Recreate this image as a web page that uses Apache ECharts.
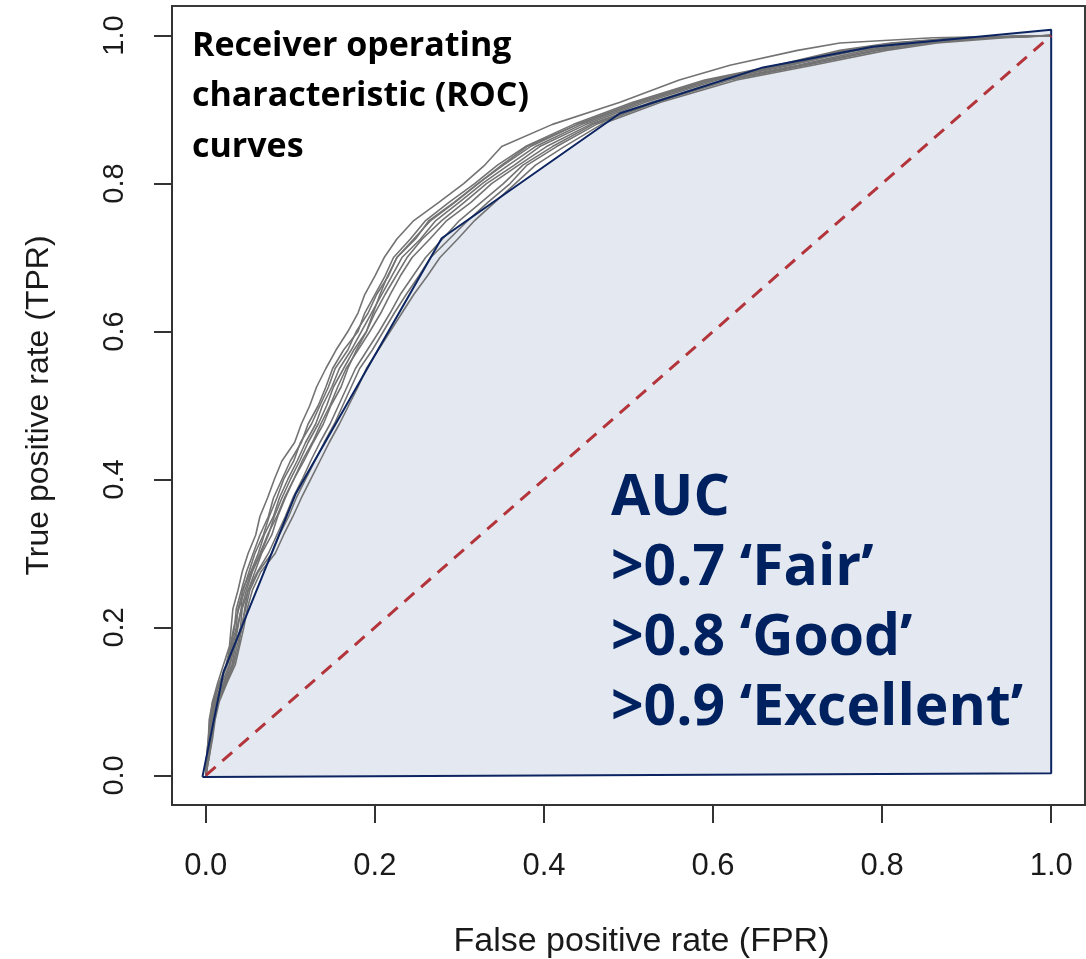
<!DOCTYPE html>
<html>
<head>
<meta charset="utf-8">
<script src="https://cdn.jsdelivr.net/npm/echarts@6/dist/echarts.min.js"></script>
<style>
  html, body { margin: 0; padding: 0; background: #ffffff; }
  #chart { width: 1086px; height: 959px; }
</style>
</head>
<body>
<div id="chart"></div>
<script>
// Axis ticks shared by both axes
const tickValues = [0, 0.2, 0.4, 0.6, 0.8, 1.0];

// TPR levels at which every resampled ROC curve is listed
const tprLevels = [0, 0.025, 0.05, 0.075, 0.1, 0.125, 0.15, 0.175, 0.2, 0.225, 0.25, 0.275, 0.3, 0.325, 0.35, 0.375, 0.4, 0.425, 0.45, 0.475, 0.5, 0.525, 0.55, 0.575, 0.6, 0.625, 0.65, 0.675, 0.7, 0.725, 0.75, 0.775, 0.8, 0.825, 0.85, 0.88, 0.91, 0.94, 0.96, 0.98, 0.99, 0.997, 1];

// FPR of each resampled ROC curve at those TPR levels
const fprA = [0, .001, .003, .004, .008, .014, .021, .028, .030, .032, .038, .043, .050, .059, .064, .073, .081, .090, .105, .113, .123, .131, .142, .154, .168, .180, .188, .200, .211, .226, .246, .276, .305, .33, .35, .41, .49, .56, .62, .70, .75, .86, 1];
const fprB = [0, .002, .004, .006, .009, .017, .025, .03, .034, .036, .042, .048, .056, .064, .074, .08, .09, .1, .113, .121, .133, .142, .15, .163, .18, .188, .2, .212, .222, .242, .26, .288, .318, .345, .378, .435, .505, .59, .675, .75, .81, .89, 1];
const fprC = [0, .002, .005, .007, .011, .019, .028, .032, .037, .042, .043, .053, .062, .069, .08, .087, .097, .108, .118, .13, .138, .149, .158, .172, .184, .196, .208, .22, .232, .254, .272, .3, .327, .358, .39, .445, .515, .6, .69, .765, .825, .9, 1];
const fprD = [0, .003, .006, .008, .012, .021, .029, .034, .038, .042, .048, .055, .065, .074, .081, .09, .1, .111, .121, .133, .143, .151, .163, .175, .19, .2, .212, .225, .238, .256, .279, .306, .332, .365, .395, .45, .52, .605, .69, .77, .83, .91, 1];
const fprE = [0, .003, .006, .009, .013, .022, .031, .035, .041, .043, .05, .058, .066, .078, .085, .094, .104, .114, .126, .136, .147, .156, .166, .18, .194, .207, .218, .23, .244, .265, .285, .314, .338, .37, .403, .455, .527, .612, .7, .78, .84, .92, 1];
const fprF = [0, .004, .007, .01, .015, .024, .033, .039, .042, .047, .052, .062, .078, .087, .098, .107, .118, .129, .14, .152, .162, .172, .182, .197, .21, .223, .237, .252, .266, .288, .31, .334, .36, .38, .415, .462, .533, .62, .71, .795, .855, .93, 1];
const fprG = [0, .004, .008, .011, .016, .025, .035, .04, .045, .049, .055, .065, .082, .092, .103, .113, .124, .135, .146, .158, .169, .18, .19, .204, .218, .232, .246, .262, .277, .298, .318, .342, .366, .39, .424, .468, .538, .628, .718, .805, .865, .945, 1];
const fprH = [0, .001, .003, .005, .008, .016, .024, .029, .033, .039, .046, .054, .064, .073, .084, .093, .104, .116, .127, .139, .148, .16, .168, .178, .19, .198, .206, .215, .226, .246, .266, .295, .322, .35, .38, .44, .51, .595, .68, .755, .815, .895, 1];
const fprI = [0, .002, .004, .007, .01, .016, .026, .031, .036, .038, .044, .051, .058, .068, .075, .084, .092, .104, .112, .125, .135, .145, .153, .168, .178, .192, .202, .216, .226, .248, .264, .294, .322, .352, .384, .44, .51, .595, .685, .76, .82, .9, 1];
const fprJ = [0, .003, .007, .009, .014, .023, .032, .037, .043, .046, .05, .061, .074, .084, .094, .103, .114, .124, .135, .147, .157, .167, .177, .191, .205, .218, .23, .245, .26, .28, .3, .326, .352, .375, .41, .458, .53, .615, .705, .79, .85, .925, 1];

// Summary (convex hull) region, traced clockwise and closed
const hullFpr = [-0.004, 0.021, 0.106, 0.279, 0.49, 0.659, 0.789, 1.0, 1.0, -0.004];
const hullTpr = [-0.002, 0.14, 0.38, 0.726, 0.895, 0.957, 0.985, 1.008, 0.003, -0.002];

// Chance line
const chanceFpr = [0, 1];
const chanceTpr = [0, 1];

// Annotation text
const titleLines = ['Receiver operating', 'characteristic (ROC)', 'curves'];
const aucLines = ['AUC', '>0.7 \u2018Fair\u2019', '>0.8 \u2018Good\u2019', '>0.9 \u2018Excellent\u2019'];

const rocCurves = [fprA, fprB, fprC, fprD, fprE, fprF, fprG, fprH, fprI, fprJ]
  .map(fpr => fpr.map((x, i) => [x, tprLevels[i]]));
const hullPoints = hullFpr.map((x, i) => [x, hullTpr[i]]);
const chancePoints = chanceFpr.map((x, i) => [x, chanceTpr[i]]);

const chart = echarts.init(document.getElementById('chart'), null, { renderer: 'canvas' });

const axisFont = '"Liberation Sans", Arial, sans-serif';
const boldFont = '"Open Sans", Lato, sans-serif';

function axisCommon(name, isY) {
  return {
    type: 'value',
    min: -0.04,
    max: 1.04,
    splitLine: { show: false },
    axisLine: { show: true, onZero: false, lineStyle: { color: '#333', width: 2 } },
    axisTick: {
      show: true, inside: false, length: 18,
      customValues: tickValues,
      lineStyle: { color: '#333', width: 2 }
    },
    axisLabel: {
      customValues: tickValues,
      formatter: v => v.toFixed(1),
      fontFamily: axisFont,
      fontSize: isY ? 29 : 31,
      color: '#1a1a1a',
      margin: isY ? 43 : 46,
      rotate: isY ? 90 : 0
    },
    name: name,
    nameLocation: 'middle',
    nameGap: isY ? 117 : 120,
    nameTextStyle: {
      fontFamily: axisFont,
      fontSize: isY ? 32 : 34,
      color: '#1a1a1a',
      padding: isY ? 0 : [0, 0, 0, 26]
    }
  };
}

const series = [];

// Filled hull region (under everything else)
series.push({
  type: 'custom',
  silent: true,
  z: 1,
  data: hullPoints,
  renderItem: (params, api) => {
    if (params.dataIndex !== 0) return null;
    const pts = hullPoints.map(p => api.coord(p));
    return {
      type: 'polygon',
      shape: { points: pts },
      style: { fill: '#e4e8f0', stroke: null }
    };
  }
});

// Individual ROC curves
rocCurves.forEach(c => {
  series.push({
    type: 'line',
    data: c,
    symbol: 'none',
    silent: true,
    z: 2,
    lineStyle: { color: '#737373', width: 1.6 }
  });
});

// Hull outline
series.push({
  type: 'line',
  data: hullPoints,
  symbol: 'none',
  silent: true,
  z: 3,
  lineStyle: { color: '#0c2461', width: 2 }
});

// Chance diagonal
series.push({
  type: 'line',
  data: chancePoints,
  symbol: 'none',
  silent: true,
  z: 4,
  lineStyle: { color: '#b3343b', width: 3, type: [13, 9] }
});

const graphics = [];
titleLines.forEach((t, i) => {
  graphics.push({
    type: 'text',
    left: 192,
    top: 29 + i * 50.5,
    z: 10,
    style: {
      text: t,
      font: 'bold 34px ' + boldFont,
      fill: '#000000'
    }
  });
});
aucLines.forEach((t, i) => {
  graphics.push({
    type: 'text',
    left: 611,
    top: 470 + i * 70,
    z: 10,
    style: {
      text: t,
      font: 'bold 57px ' + boldFont,
      fill: '#00215f'
    }
  });
});

chart.setOption({
  animation: false,
  backgroundColor: '#ffffff',
  grid: {
    left: 172, top: 6, right: 1, bottom: 154,
    outerBoundsMode: 'none',
    containLabel: false,
    show: true, borderColor: '#3a3a3a', borderWidth: 2,
    backgroundColor: 'transparent'
  },
  xAxis: axisCommon('False positive rate (FPR)', false),
  yAxis: axisCommon('True positive rate (TPR)', true),
  series: series,
  graphic: graphics
});
</script>
</body>
</html>
